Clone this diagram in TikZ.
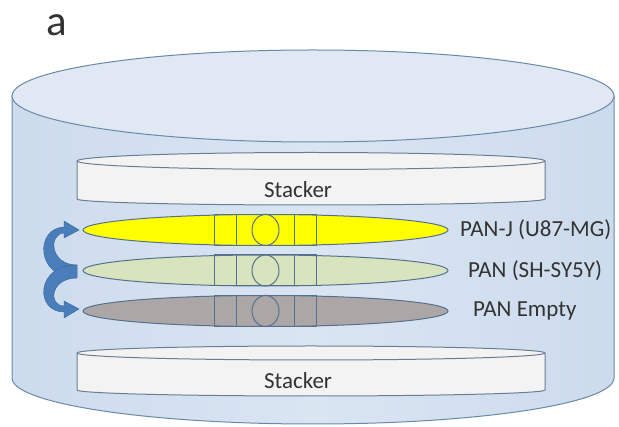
\documentclass[tikz,border=0pt]{standalone}
\usepackage{fontspec}
\setmainfont{Carlito}
\usepackage{tikz}
\usetikzlibrary{positioning,shapes.geometric}
\definecolor{cylside}{HTML}{CCDBED}
\definecolor{cylmid}{HTML}{DAE5F2}
\definecolor{cyltop}{HTML}{DFE8F3}
\definecolor{cylline}{HTML}{6A89A8}
\definecolor{stackfill}{HTML}{F3F3F3}
\definecolor{stackline}{HTML}{6A7D92}
\definecolor{panline}{HTML}{56718E}
\definecolor{panyellow}{HTML}{FFFF00}
\definecolor{pangreen}{HTML}{D7E4BD}
\definecolor{pangrey}{HTML}{ACA6A6}
\definecolor{swapblue}{HTML}{4A7EBB}
\definecolor{txt}{HTML}{333333}

\begin{document}
\begin{tikzpicture}[
  x=1pt,y=1pt,
  every node/.style={text=txt,font=\fontsize{23}{27}\selectfont},
  pan/.style={draw=panline,line width=1pt,ellipse,minimum width=365pt,
    minimum height=31pt,inner sep=0pt,outer sep=0pt},
  lbl/.style={anchor=west,inner sep=0pt},
  stk/.style={draw=stackline,line width=1pt,fill=stackfill},
  swap/.style={fill=swapblue,draw=swapblue!80!black,line width=0.4pt}
]
\useasboundingbox (0,0) rectangle (619,-427);
\node[font=\fontsize{43}{50}\selectfont,inner sep=0pt] (tag) at (57,-25) {a};

% outer cylinder
\draw[cylline,line width=1pt,left color=cylside,right color=cylside,
  middle color=cylmid]
  (12,-96) -- (12,-378) arc[start angle=180,end angle=360,x radius=301,y radius=46]
  -- (614,-96) -- cycle;
\draw[cylline,line width=1pt,fill=cyltop] (313,-96) ellipse[x radius=301,y radius=46];

% stackers
\draw[stk] (77,-161) -- (77,-199) arc[start angle=180,end angle=360,x radius=234,y radius=6]
  -- (545,-161) arc[start angle=0,end angle=180,x radius=234,y radius=8.5] -- cycle;
\draw[stackline,line width=1pt] (77,-161) arc[start angle=180,end angle=360,x radius=234,y radius=8.5];
\node (stk1) at (298,-190) {Stacker};

\draw[stk] (77,-353) -- (77,-390) arc[start angle=180,end angle=360,x radius=234,y radius=6]
  -- (545,-353) arc[start angle=0,end angle=180,x radius=234,y radius=7] -- cycle;
\draw[stackline,line width=1pt] (77,-353) arc[start angle=180,end angle=360,x radius=234,y radius=7];
\node (stk2) at (298,-381) {Stacker};

% pans
\node[pan,fill=panyellow] (panj) at (265.5,-230) {};
\node[pan,fill=pangreen] (pan) at (265.5,-270.5) {};
\node[pan,fill=pangrey] (pane) at (265.5,-311) {};
\foreach \p in {panj,pan,pane}{
  \draw[panline,line width=1pt] ([shift={(-51,-15.5)}]\p.center) rectangle ([shift={(51,15.5)}]\p.center);
  \draw[panline,line width=1pt] ([shift={(-29,-15.5)}]\p.center) -- ([shift={(-29,15.5)}]\p.center);
  \draw[panline,line width=1pt] ([shift={(29,-15.5)}]\p.center) -- ([shift={(29,15.5)}]\p.center);
  \draw[panline,line width=1pt] (\p.center) ellipse[x radius=13.5,y radius=15.5];
}
\node[lbl,right=12pt of panj] (lj) {PAN-J (U87-MG)};
\node[lbl,right=20pt of pan] (ls) {PAN (SH-SY5Y)};
\node[lbl,right=25pt of pane] (le) {PAN Empty};

% swap arrows
\draw[swap] (77,-265) .. controls (50,-265) and (48,-234) .. (64,-233) -- (64,-238)
  -- (79,-230) -- (64,-221) -- (64,-227) .. controls (35,-228) and (35,-278) .. (77,-278) -- cycle;
\draw[swap] (77,-278) .. controls (50,-278) and (48,-306) .. (64,-306) -- (64,-301)
  -- (79,-309) -- (64,-318) -- (64,-312) .. controls (35,-312) and (35,-265) .. (77,-265) -- cycle;
\end{tikzpicture}
\end{document}
